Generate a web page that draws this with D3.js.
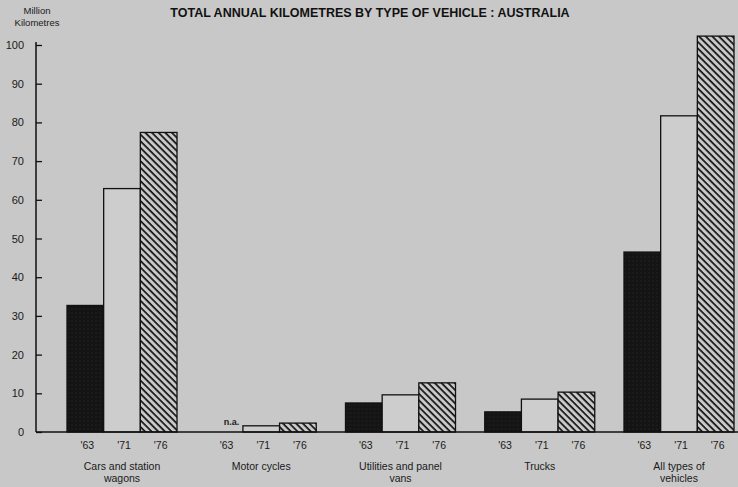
<!DOCTYPE html>
<html>
<head>
<meta charset="utf-8">
<script src="https://cdn.jsdelivr.net/npm/d3@7"></script>
<style>
  body { margin: 0; background: #c8c8c8; }
  svg { display: block; font-family: "Liberation Sans", Arial, sans-serif; }
</style>
</head>
<body>
<div id="chart"></div>
<script>
// chart data
const categories = [
    ["Cars and station", "wagons"],
    ["Motor cycles"],
    ["Utilities and panel", "vans"],
    ["Trucks"],
    ["All types of", "vehicles"]
]
const years = ["'63", "'71", "'76"]
const values1963 = [32.7, null, 7.5, 5.2, 46.5]
const values1971 = [62.9, 1.6, 9.6, 8.5, 81.7]
const values1976 = [77.4, 2.3, 12.7, 10.3, 102.3]
const yTicks = [0, 10, 20, 30, 40, 50, 60, 70, 80, 90, 100]

const width = 738, height = 487
const margin = { left: 36, top: 45, bottom: 55 }
const zeroY = 432

const svg = d3.select("#chart").append("svg")
    .attr("width", width)
    .attr("height", height)

svg.append("rect")
    .attr("width", width).attr("height", height)
    .attr("fill", "#c8c8c8")

/* PATTERNS */
const defs = svg.append("defs")

const hatch = defs.append("pattern")
    .attr("id", "hatch")
    .attr("patternUnits", "userSpaceOnUse")
    .attr("width", 4.7).attr("height", 4.7)
    .attr("patternTransform", "rotate(45)")
hatch.append("rect").attr("width", 4.7).attr("height", 4.7).attr("fill", "#c9c9c9")
hatch.append("line")
    .attr("x1", 0).attr("y1", 0).attr("x2", 4.7).attr("y2", 0)
    .attr("stroke", "#111").attr("stroke-width", 3.4)

const dots = defs.append("pattern")
    .attr("id", "dots")
    .attr("patternUnits", "userSpaceOnUse")
    .attr("width", 4).attr("height", 4)
dots.append("rect").attr("width", 4).attr("height", 4).attr("fill", "#141414")
dots.append("circle").attr("cx", 1).attr("cy", 1).attr("r", 0.55).attr("fill", "#333")

const fills = ["url(#dots)", "#cdcdcd", "url(#hatch)"]

/* SCALES */
const y = d3.scaleLinear()
    .domain([0, 100])
    .range([zeroY, margin.top])

const x0 = d3.scaleBand()
    .domain(d3.range(categories.length))
    .range([67, 734])
    .paddingInner(0.21)
    .paddingOuter(0)

const x1 = d3.scaleBand()
    .domain(years)
    .range([0, x0.bandwidth()])

const series = [values1963, values1971, values1976]

/* BARS */
const groups = svg.append("g").selectAll("g")
    .data(categories)
    .join("g")
    .attr("transform", (d, i) => `translate(${x0(i)},0)`)

groups.selectAll("rect")
    .data((d, i) => years.map((yr, j) => ({ yr, j, v: series[j][i] })))
    .join("rect")
    .filter(d => d.v !== null)
    .attr("x", d => x1(d.yr))
    .attr("y", d => y(d.v))
    .attr("width", x1.bandwidth())
    .attr("height", d => zeroY - y(d.v))
    .attr("fill", d => fills[d.j])
    .attr("stroke", "#111")
    .attr("stroke-width", 1.3)

// n.a. marker for motor cycles 1963
series[0].forEach((v, i) => {
    if (v === null) {
        svg.append("text")
            .attr("x", x0(i) + x1(years[0]) + x1.bandwidth() / 2 + 7)
            .attr("y", zeroY - 7)
            .attr("text-anchor", "middle")
            .attr("font-size", 9)
            .attr("font-weight", "bold")
            .attr("fill", "#222")
            .text("n.a.")
    }
})

/* AXES */
svg.append("line")
    .attr("x1", margin.left).attr("x2", width)
    .attr("y1", zeroY).attr("y2", zeroY)
    .attr("stroke", "#111").attr("stroke-width", 1.5)

const yAxis = svg.append("g")
    .attr("transform", `translate(${margin.left},0)`)
    .call(d3.axisRight(y).tickValues(yTicks).tickSize(6).tickFormat(""))
yAxis.select(".domain")
    .attr("d", `M0,${zeroY}V${y(100) - 3}`)
    .attr("stroke", "#111").attr("stroke-width", 1.5)
yAxis.selectAll(".tick line").attr("stroke", "#111").attr("stroke-width", 1.3)

svg.append("g").selectAll("text")
    .data(yTicks)
    .join("text")
    .attr("x", 24)
    .attr("y", d => y(d) + 4)
    .attr("text-anchor", "end")
    .attr("font-size", 11)
    .attr("fill", "#1a1a1a")
    .text(d => d)

// year labels
groups.selectAll("text.year")
    .data(years)
    .join("text")
    .attr("class", "year")
    .attr("x", d => x1(d) + x1.bandwidth() / 2 + 2)
    .attr("y", zeroY + 17)
    .attr("text-anchor", "middle")
    .attr("font-size", 10.5)
    .attr("fill", "#1a1a1a")
    .text(d => d)

// category labels
groups.append("text")
    .attr("x", x0.bandwidth() / 2)
    .attr("y", zeroY + 38)
    .attr("text-anchor", "middle")
    .attr("font-size", 10.5)
    .attr("fill", "#1a1a1a")
    .selectAll("tspan")
    .data(d => d)
    .join("tspan")
    .attr("x", x0.bandwidth() / 2)
    .attr("dy", (d, i) => i ? 12 : 0)
    .text(d => d)

/* TITLES */
svg.append("text")
    .attr("x", 370).attr("y", 17)
    .attr("text-anchor", "middle")
    .attr("font-size", 12.5)
    .attr("font-weight", "bold")
    .attr("fill", "#111")
    .text("TOTAL ANNUAL KILOMETRES BY TYPE OF VEHICLE : AUSTRALIA")

svg.append("text")
    .attr("x", 37).attr("y", 14)
    .attr("text-anchor", "middle")
    .attr("font-size", 9.5)
    .attr("fill", "#1a1a1a")
    .text("Million")
svg.append("text")
    .attr("x", 37).attr("y", 26)
    .attr("text-anchor", "middle")
    .attr("font-size", 9.5)
    .attr("fill", "#1a1a1a")
    .text("Kilometres")
</script>
</body>
</html>
